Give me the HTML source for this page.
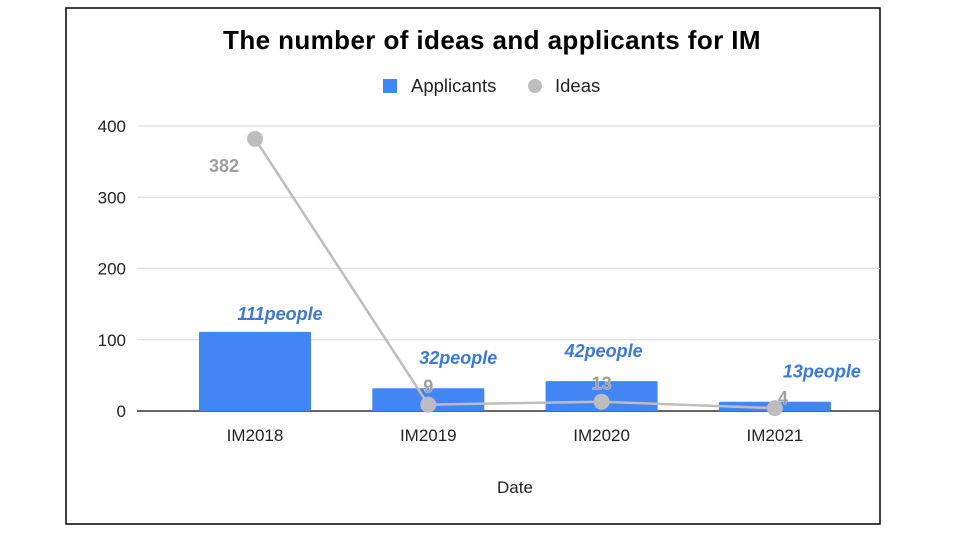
<!DOCTYPE html>
<html><head><meta charset="utf-8"><style>
body{margin:0;background:#fff;font-family:"Liberation Sans",Arial,sans-serif}
svg{display:block}
</style></head><body>
<svg id="chart" width="960" height="540">
<rect x="66" y="8" width="814" height="516" fill="#fff" stroke="#000" stroke-width="1.5"/>
<text x="492" y="49" text-anchor="middle" font-size="26" font-weight="bold" letter-spacing="0.4" fill="#000">The number of ideas and applicants for IM</text>
<g>
<g><rect x="383" y="79" width="14" height="14" fill="#4285f4"/><text x="411" y="92" font-size="18.5" fill="#222">Applicants</text></g>
<g><circle cx="535" cy="86" r="7" fill="#bdbdbd"/><text x="555" y="92" font-size="18.5" fill="#222">Ideas</text></g>
</g>
<g id="grid"></g><g id="bars"></g><g id="line"></g><g id="labels"></g>
<text x="515" y="493" text-anchor="middle" font-size="17" fill="#222">Date</text>
</svg>
<script>
const categories=["IM2018","IM2019","IM2020","IM2021"];
const applicants=[111,32,42,13];
const ideas=[382,9,13,4];
const yTicks=[0,100,200,300,400];
const ns="http://www.w3.org/2000/svg";
const x0=137,x1=880,y0=411,y1=126,yMax=400;
function xS(i){return 255+i*173.3;}
function yS(v){return y0-(v/yMax)*(y0-y1);}
function mk(tag,attrs,parent){const e=document.createElementNS(ns,tag);for(const k in attrs)e.setAttribute(k,attrs[k]);document.getElementById(parent).appendChild(e);return e;}
yTicks.forEach(t=>{
 const l=mk("line",{x1:x0,x2:x1,y1:yS(t),y2:yS(t),stroke:t===0?"#333":"#ddd","stroke-width":t===0?1.5:1.2},"grid");
 
 
 const tx=mk("text",{x:126,y:yS(t)+6,"text-anchor":"end","font-size":17,fill:"#222"},"grid");
 tx.textContent=t;
 
 
});
categories.forEach((c,i)=>{
 const tx=mk("text",{x:xS(i),y:441,"text-anchor":"middle","font-size":17,fill:"#222"},"grid");
 tx.textContent=c;
 
 
});
const bw=112;
applicants.forEach((v,i)=>{
 const r=mk("rect",{x:xS(i)-bw/2,y:yS(v),width:bw,height:y0-yS(v),fill:"#4285f4",rx:1},"bars");
 
 
});
const labDx=[25,30,2,47];
applicants.forEach((v,i)=>{
 const off=i===0?-12:-24;
 const t=mk("text",{x:xS(i)+labDx[i],y:yS(v)+off,"text-anchor":"middle","font-size":18,"font-weight":"bold","font-style":"italic",fill:"#3c78d8"},"labels");
 t.textContent=v+"people";
 
 
});
const pts=ideas.map((v,i)=>xS(i)+","+yS(v)).join(" ");
const pl=mk("polyline",{points:pts,fill:"none",stroke:"#bdbdbd","stroke-width":2.5},"line");


ideas.forEach((v,i)=>{
 const c=mk("circle",{cx:xS(i),cy:yS(v),r:8,fill:"#bdbdbd"},"line");
 
 
});
const idDx=[-31,0,0,8],idDy=[33,-12,-12,-4];
ideas.forEach((v,i)=>{
 const t=mk("text",{x:xS(i)+idDx[i],y:yS(v)+idDy[i],"text-anchor":"middle","font-size":18,"font-weight":"bold",fill:"#9e9e9e",stroke:i===0?"none":"#fff","stroke-width":i===0?0:0.6,"paint-order":"stroke"},"labels");
 t.textContent=v;
 
 
});
</script>
</body></html>
